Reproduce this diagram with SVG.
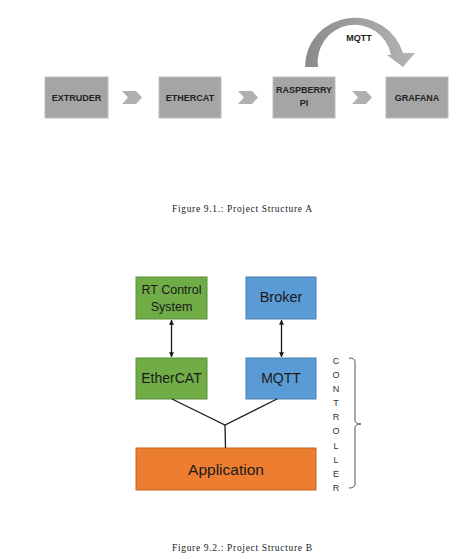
<svg xmlns="http://www.w3.org/2000/svg" width="466" height="559" viewBox="0 0 466 559">
<style>
.gbox{fill:#a5a5a5;stroke:#bdbdbd;stroke-width:1}
.glab{font-family:"Liberation Sans",Arial,sans-serif;font-weight:bold;font-size:9px;fill:#222222;text-anchor:middle}
.chev{fill:#b0b0b0}
.cap{font-family:"Liberation Serif","Times New Roman",serif;font-size:9.5px;fill:#222;text-anchor:middle}
.lab{font-family:"Liberation Sans",Arial,sans-serif;fill:#1a1a1a;text-anchor:middle}
.green{fill:#70ad47;stroke:#5a8f37;stroke-width:1}
.blue{fill:#5b9bd5;stroke:#4a7fb0;stroke-width:1}
.orange{fill:#ed7d31;stroke:#c8651f;stroke-width:1}
.conn{stroke:#1a1a1a;stroke-width:1.3;fill:none}
.ctl{font-family:"Liberation Sans",Arial,sans-serif;font-size:9px;fill:#333333;text-anchor:middle}
</style>
<defs>
<linearGradient id="arcg" x1="0" y1="0" x2="1" y2="0">
<stop offset="0" stop-color="#8a8a8a"/>
<stop offset="0.5" stop-color="#a0a0a0"/>
<stop offset="1" stop-color="#b4b4b4"/>
</linearGradient>
<marker id="ah" viewBox="0 0 8 8" refX="7.5" refY="4" markerWidth="5" markerHeight="5" orient="auto-start-reverse" markerUnits="userSpaceOnUse">
<path d="M0,0 L8,4 L0,8 Z" fill="#1a1a1a"/>
</marker>
</defs>
<rect width="466" height="559" fill="#ffffff"/>

<!-- Figure A -->
<g id="extruder"><rect class="gbox" x="45" y="77" width="63" height="41"/><text class="glab" x="76.5" y="100.5">EXTRUDER</text></g>
<g id="ethercat-a"><rect class="gbox" x="159" y="77" width="62" height="41"/><text class="glab" x="190" y="100.5">ETHERCAT</text></g>
<g id="raspberry"><rect class="gbox" x="273" y="77" width="62" height="41"/><text class="glab" x="304" y="93">RASPBERRY</text><text class="glab" x="304" y="105.5">PI</text></g>
<g id="grafana"><rect class="gbox" x="386" y="77" width="62" height="41"/><text class="glab" x="417" y="100.5">GRAFANA</text></g>
<g id="connectors-a">
<polygon class="chev" points="122,91 136,91 142,97.5 136,104 122,104 128,97.5"/>
<polygon class="chev" points="238,91 252,91 258,97.5 252,104 238,104 244,97.5"/>
<polygon class="chev" points="352,91 366,91 372,97.5 366,104 352,104 358,97.5"/>
<path d="M305,67 A50,49 0 0 1 403,53 L415,53 L403,67 L387,55 L391,55 A37,37 0 0 0 318,67 Z" fill="url(#arcg)"/>
<text class="glab" x="359" y="41">MQTT</text>
</g>
<text class="cap" x="242" y="212" textLength="140">Figure 9.1.: Project Structure A</text>

<!-- Figure B -->
<g id="rt-control"><rect class="green" x="136" y="277" width="71" height="42"/><text class="lab" font-size="12.5" x="171.5" y="294">RT Control</text><text class="lab" font-size="12.5" x="171.5" y="311">System</text></g>
<g id="broker"><rect class="blue" x="246" y="277" width="70" height="42"/><text class="lab" font-size="14.5" x="281" y="302">Broker</text></g>
<g id="ethercat-b"><rect class="green" x="136" y="358" width="71" height="41"/><text class="lab" font-size="14" x="171.5" y="383">EtherCAT</text></g>
<g id="mqtt-b"><rect class="blue" x="246" y="358" width="70" height="41"/><text class="lab" font-size="14" x="281" y="383">MQTT</text></g>
<g id="application"><rect class="orange" x="136" y="448" width="180" height="42"/><text class="lab" font-size="15.5" x="226" y="474.5">Application</text></g>
<g id="connectors-b">
<line class="conn" x1="171.5" y1="320" x2="171.5" y2="357" marker-start="url(#ah)" marker-end="url(#ah)" stroke-width="1"/>
<line class="conn" x1="281.5" y1="320" x2="281.5" y2="357" marker-start="url(#ah)" marker-end="url(#ah)" stroke-width="1"/>
<polyline class="conn" points="172,399 225,425 277,399"/>
<line class="conn" x1="225" y1="425" x2="225.5" y2="448"/>
</g>
<g id="controller">
<text class="ctl" x="336" y="363.5">C</text>
<text class="ctl" x="336" y="377.5">O</text>
<text class="ctl" x="336" y="391.5">N</text>
<text class="ctl" x="336" y="406">T</text>
<text class="ctl" x="336" y="420">R</text>
<text class="ctl" x="336" y="434">O</text>
<text class="ctl" x="336" y="448.5">L</text>
<text class="ctl" x="336" y="462.5">L</text>
<text class="ctl" x="336" y="476.5">E</text>
<text class="ctl" x="336" y="490.5">R</text>
<path d="M349,358 Q355,358 355,362 L355,420 Q355,424 361,424 Q355,424 355,428 L355,484 Q355,488 349,488" fill="none" stroke="#555" stroke-width="1"/>
</g>
<text class="cap" x="242" y="551" textLength="140">Figure 9.2.: Project Structure B</text>
</svg>
